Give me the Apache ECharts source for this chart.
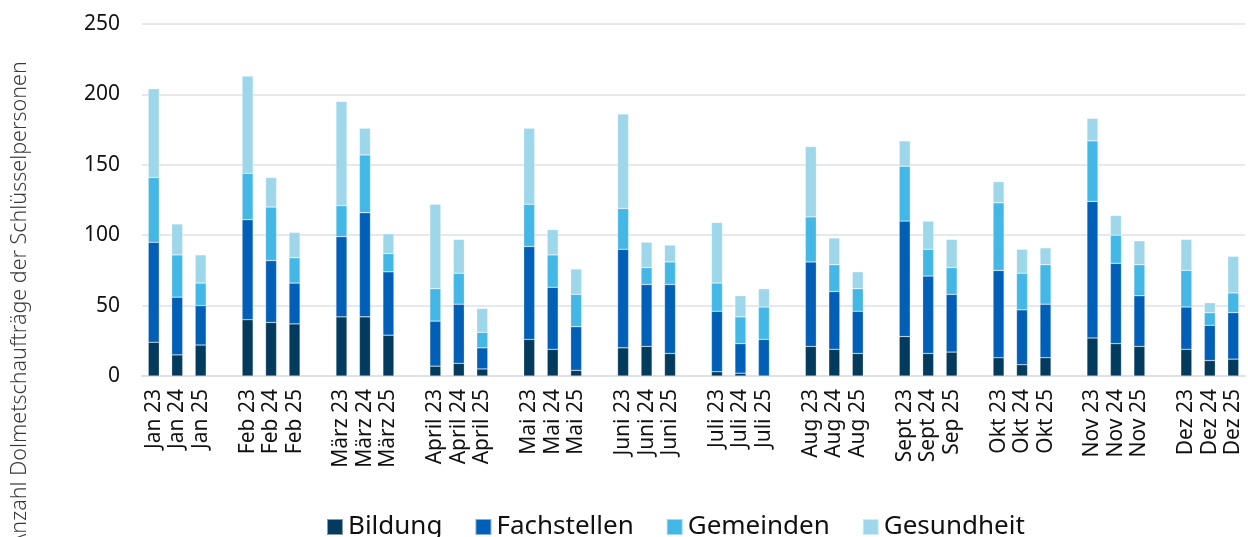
<!DOCTYPE html>
<html>
<head>
<meta charset="utf-8">
<script src="https://cdn.jsdelivr.net/npm/echarts@6/dist/echarts.min.js"></script>
<style>
  html, body { margin: 0; padding: 0; background: #fff; }
  #main { width: 1248px; height: 537px; }
</style>
</head>
<body>
<div id="main"></div>
<script>
var labels = [
  'Jan 23', 'Jan 24', 'Jan 25',
  'Feb 23', 'Feb 24', 'Feb 25',
  'März 23', 'März 24', 'März 25',
  'April 23', 'April 24', 'April 25',
  'Mai 23', 'Mai 24', 'Mai 25',
  'Juni 23', 'Juni 24', 'Juni 25',
  'Juli 23', 'Juli 24', 'Juli 25',
  'Aug 23', 'Aug 24', 'Aug 25',
  'Sept 23', 'Sept 24', 'Sep 25',
  'Okt 23', 'Okt 24', 'Okt 25',
  'Nov 23', 'Nov 24', 'Nov 25',
  'Dez 23', 'Dez 24', 'Dez 25'
];
var seriesNames = ['Bildung', 'Fachstellen', 'Gemeinden', 'Gesundheit'];
var colors = ['#023b5e', '#0060b8', '#43b7e6', '#9ed7ea'];

var bildung     = [24, 15, 22, 40, 38, 37, 42, 42, 29, 7, 9, 5, 26, 19, 4, 20, 21, 16, 3, 2, 0, 21, 19, 16, 28, 16, 17, 13, 8, 13, 27, 23, 21, 19, 11, 12];
var fachstellen = [71, 41, 28, 71, 44, 29, 57, 74, 45, 32, 42, 15, 66, 44, 31, 70, 44, 49, 43, 21, 26, 60, 41, 30, 82, 55, 41, 62, 39, 38, 97, 57, 36, 30, 25, 33];
var gemeinden   = [46, 30, 16, 33, 38, 18, 22, 41, 13, 23, 22, 11, 30, 23, 23, 29, 12, 16, 20, 19, 23, 32, 19, 16, 39, 19, 19, 48, 26, 28, 43, 20, 22, 26, 9, 14];
var gesundheit  = [63, 22, 20, 69, 21, 18, 74, 19, 14, 60, 24, 17, 54, 18, 18, 67, 18, 12, 43, 15, 13, 50, 19, 12, 18, 20, 20, 15, 17, 12, 16, 14, 17, 22, 7, 26];

// insert an empty slot between the month groups
function withGaps(arr, gap) {
  var out = [];
  for (var i = 0; i < arr.length; i++) {
    if (i > 0 && i % 3 === 0) out.push(gap);
    out.push(arr[i]);
  }
  return out;
}

var categories = withGaps(labels, '');
var values = [bildung, fachstellen, gemeinden, gesundheit];

var myChart = echarts.init(document.getElementById('main'));

var series = seriesNames.map(function (name, k) {
  return {
    name: name,
    type: 'bar',
    stack: 'total',
    barWidth: 11,
    data: withGaps(values[k], '-'),
    itemStyle: {
      color: colors[k],
      borderColor: 'rgba(255,255,255,0.5)',
      borderWidth: 0.5
    }
  };
});

var option = {
  animation: false,
  color: colors,
  grid: {
    left: 142,
    right: 3,
    top: 24,
    bottom: 161
  },
  legend: {
    left: 321,
    top: 509,
    itemWidth: 16,
    itemHeight: 16,
    itemGap: 32,
    icon: 'rect',
    textStyle: {
      fontFamily: 'Noto Sans',
      fontSize: 26,
      color: '#111'
    },
    data: seriesNames
  },
  xAxis: {
    type: 'category',
    data: categories,
    axisLine: { lineStyle: { color: '#dde1e8', width: 2 } },
    axisTick: { show: false },
    axisLabel: {
      rotate: 90,
      interval: 0,
      margin: 13,
      fontFamily: 'Noto Sans',
      fontSize: 21,
      color: '#111'
    }
  },
  yAxis: {
    type: 'value',
    min: 0,
    max: 250,
    interval: 50,
    axisLine: { show: false },
    axisTick: { show: false },
    axisLabel: {
      margin: 22,
      fontFamily: 'Noto Sans',
      fontSize: 21,
      color: '#111'
    },
    splitLine: { lineStyle: { color: '#dde1e8', width: 1.5 } }
  },
  graphic: [{
    type: 'text',
    x: 20,
    y: 304,
    rotation: Math.PI / 2,
    style: {
      text: 'Anzahl Dolmetschaufträge der Schlüsselpersonen',
      font: '300 21.5px "Noto Sans"',
      fill: '#3a3a3a',
      align: 'center',
      verticalAlign: 'middle'
    }
  }],
  series: series
};

myChart.setOption(option);
</script>
</body>
</html>
